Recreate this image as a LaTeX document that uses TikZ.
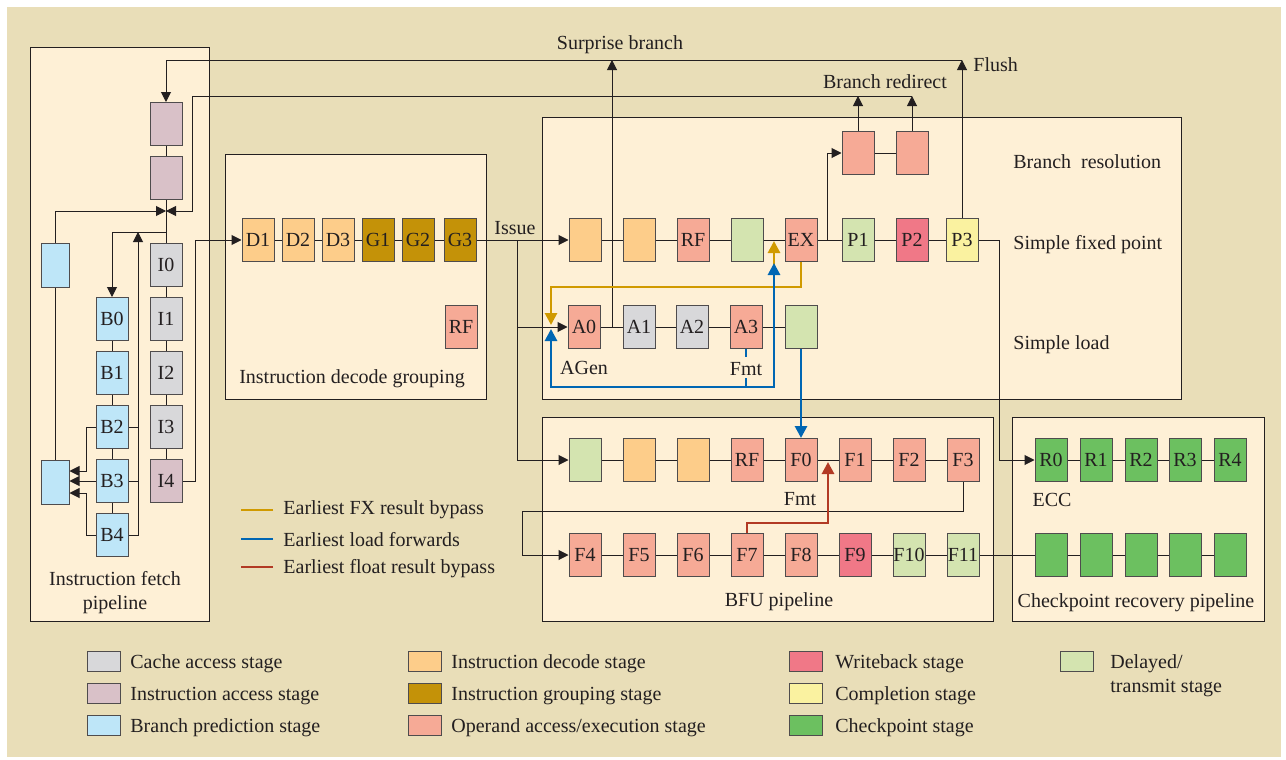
\documentclass[tikz,border=0pt]{standalone}
\usepackage{fontspec}
\setmainfont{Liberation Serif}
\usetikzlibrary{arrows.meta,calc}

\definecolor{bgtan}{RGB}{233,222,184}
\definecolor{panelfill}{RGB}{254,240,214}
\definecolor{cachec}{RGB}{216,216,218}
\definecolor{iaccc}{RGB}{217,193,200}
\definecolor{bpredc}{RGB}{190,230,248}
\definecolor{decc}{RGB}{253,205,138}
\definecolor{grpc}{RGB}{196,146,8}
\definecolor{opexc}{RGB}{246,170,150}
\definecolor{wbc}{RGB}{240,120,135}
\definecolor{cmplc}{RGB}{250,242,160}
\definecolor{ckptc}{RGB}{108,192,96}
\definecolor{dlyc}{RGB}{212,228,176}
\definecolor{fxgold}{RGB}{208,154,0}
\definecolor{ldblue}{RGB}{0,102,179}
\definecolor{fltred}{RGB}{178,58,36}
\definecolor{inkc}{RGB}{35,31,32}

\begin{document}
\begin{tikzpicture}[x=0.5pt,y=-0.5pt, font=\fontsize{10}{12}\selectfont, text=inkc,
  stg/.style={draw=inkc!80, line width=0.5pt, minimum width=16pt, minimum height=21.5pt, inner sep=0pt},
  cache/.style={stg, fill=cachec},
  iacc/.style={stg, fill=iaccc},
  bpred/.style={stg, fill=bpredc},
  dec/.style={stg, fill=decc},
  grp/.style={stg, fill=grpc},
  opex/.style={stg, fill=opexc},
  wb/.style={stg, fill=wbc},
  cmpl/.style={stg, fill=cmplc},
  ckpt/.style={stg, fill=ckptc},
  dly/.style={stg, fill=dlyc},
  panel/.style={draw=inkc, fill=panelfill, line width=0.5pt},
  wire/.style={draw=inkc, line width=0.5pt},
  flow/.style={wire, -{Triangle[length=5pt,width=5pt]}},
  bypass/.style={line width=1.4pt, -{Triangle[length=6pt,width=6pt]}},
  lbl/.style={inner sep=1pt, yshift=-1pt},
  key/.style={draw=inkc!80, line width=0.5pt, minimum width=16.5pt, minimum height=10pt, inner sep=0pt}]

  % background and panels
  \fill[white] (0,0) rectangle (1286,760);
  \fill[bgtan] (7,7) rectangle (1281,757);
  \draw[panel] (30,47) rectangle (209,621);
  \draw[panel] (225,154) rectangle (486,399);
  \draw[panel] (542,117) rectangle (1181,399);
  \draw[panel] (542,417) rectangle (993,621);
  \draw[panel] (1012,417) rectangle (1264,621);

  % fetch
  \node[iacc] (IA1) at (166,124) {};
  \node[iacc] (IA2) at (166,178) {};
  \node[cache] (I0) at (166,265) {I0};
  \node[cache] (I1) at (166,319) {I1};
  \node[cache] (I2) at (166,373) {I2};
  \node[cache] (I3) at (166,427) {I3};
  \node[iacc] (I4) at (166,481) {I4};
  \node[bpred] (B0) at (112,319) {B0};
  \node[bpred] (B1) at (112,373) {B1};
  \node[bpred] (B2) at (112,427) {B2};
  \node[bpred] (B3) at (112,481) {B3};
  \node[bpred] (B4) at (112,535) {B4};
  \node[bpred, minimum width=14pt, minimum height=22pt] (BT) at (55,265) {};
  \node[bpred, minimum width=14pt, minimum height=22pt] (BL) at (55,482) {};
  \node[lbl, align=center] (fetchtxt) at (115,591) {Instruction fetch\\pipeline};

  % decode
  \node[dec] (D1) at (258,240) {D1};
  \node[dec] (D2) at (298,240) {D2};
  \node[dec] (D3) at (338,240) {D3};
  \node[grp] (G1) at (378,240) {G1};
  \node[grp] (G2) at (418,240) {G2};
  \node[grp] (G3) at (460,240) {G3};
  \node[opex] (RFd) at (461,327) {RF};
  \node[lbl] (dectxt) at (352,377) {Instruction decode grouping};

  % branch, fixed point, load
  \node[opex] (BR1) at (858,153) {};
  \node[opex] (BR2) at (912,153) {};
  \node[dec] (X1) at (585,240) {};
  \node[dec] (X2) at (639,240) {};
  \node[opex] (XRF) at (693,240) {RF};
  \node[dly] (X4) at (747,240) {};
  \node[opex] (EX) at (801,240) {EX};
  \node[dly] (P1) at (858,240) {P1};
  \node[wb] (P2) at (912,240) {P2};
  \node[cmpl] (P3) at (962,240) {P3};
  \node[opex] (A0) at (584,327) {A0};
  \node[cache] (A1) at (639,327) {A1};
  \node[cache] (A2) at (692,327) {A2};
  \node[opex] (A3) at (746,327) {A3};
  \node[dly] (L5) at (801,327) {};
  \node[lbl] (agen) at (584,366) {AGen};
  \node[lbl] (fmtA) at (746,367) {Fmt};
  \node[lbl, anchor=west] (brres) at (1011,160) {Branch\ \ resolution};
  \node[lbl, anchor=west] (sfp) at (1011,243) {Simple fixed point};
  \node[lbl, anchor=west] (sld) at (1011,343) {Simple load};

  % BFU
  \node[dly] (FB0) at (585,460) {};
  \node[dec] (FB1) at (639,460) {};
  \node[dec] (FB2) at (693,460) {};
  \node[opex] (FRF) at (747,460) {RF};
  \node[opex] (F0) at (801,460) {F0};
  \node[opex] (F1) at (855,460) {F1};
  \node[opex] (F2) at (909,460) {F2};
  \node[opex] (F3) at (963,460) {F3};
  \node[opex] (F4) at (585,555) {F4};
  \node[opex] (F5) at (639,555) {F5};
  \node[opex] (F6) at (693,555) {F6};
  \node[opex] (F7) at (747,555) {F7};
  \node[opex] (F8) at (801,555) {F8};
  \node[wb] (F9) at (855,555) {F9};
  \node[dly] (F10) at (909,555) {F10};
  \node[dly] (F11) at (963,555) {F11};
  \node[lbl] (fmtF) at (800,497) {Fmt};
  \node[lbl] (bfutxt) at (779,600) {BFU pipeline};

  % checkpoint
  \node[ckpt] (R0) at (1051,460) {R0};
  \node[ckpt] (R1) at (1096,460) {R1};
  \node[ckpt] (R2) at (1141,460) {R2};
  \node[ckpt] (R3) at (1185,460) {R3};
  \node[ckpt] (R4) at (1230,460) {R4};
  \node[ckpt] (C0) at (1051,555) {};
  \node[ckpt] (C1) at (1096,555) {};
  \node[ckpt] (C2) at (1141,555) {};
  \node[ckpt] (C3) at (1185,555) {};
  \node[ckpt] (C4) at (1230,555) {};
  \node[lbl] (ecc) at (1052,498) {ECC};
  \node[lbl] (ckpttxt) at (1136,601) {Checkpoint recovery pipeline};

  % top labels
  \node[lbl] (surp) at (620,43) {Surprise branch};
  \node[lbl] (redir) at (885,80) {Branch redirect};
  \node[lbl, anchor=west] (flush) at (971,63) {Flush};
  \node[lbl] (issuetxt) at (515,226) {Issue};

  \coordinate (merge) at (166,211);
  \coordinate (ibr) at (166,232);
  \coordinate (bus) at (138,232);
  \coordinate (rdR) at (912,96);
  \coordinate (rdL) at (192,96);
  \coordinate (flR) at (962,60);
  \coordinate (flL) at (166,60);
  \coordinate (sbr) at (612,327);
  \coordinate (issue) at (517,240);
  \coordinate (exjn) at (827,240);
  \coordinate (a0in) at (551,327);
  \coordinate (exin) at (774,240);
  \coordinate (gold) at (774,287);
  \coordinate (ldbus) at (746,387);
  \coordinate (wrap) at (522,511);
  \coordinate (fin) at (828,460);

  % stage chains
  \draw[wire] (IA1) -- (IA2) (IA2) -- (I0) (I0) -- (I1) (I1) -- (I2) (I2) -- (I3) (I3) -- (I4);
  \draw[wire] (B0) -- (B1) (B1) -- (B2) (B2) -- (B3) (B3) -- (B4) (BL) -- (BT);
  \draw[wire] (D1) -- (D2) (D2) -- (D3) (D3) -- (G1) (G1) -- (G2) (G2) -- (G3);
  \draw[wire] (X1) -- (X2) (X2) -- (XRF) (XRF) -- (X4) (X4) -- (EX) (EX) -- (P1) (P1) -- (P2) (P2) -- (P3);
  \draw[wire] (BR1) -- (BR2);
  \draw[wire] (A0) -- (A1) (A1) -- (A2) (A2) -- (A3) (A3) -- (L5);
  \draw[wire] (FB0) -- (FB1) (FB1) -- (FB2) (FB2) -- (FRF) (FRF) -- (F0) (F0) -- (F1) (F1) -- (F2) (F2) -- (F3);
  \draw[wire] (F4) -- (F5) (F5) -- (F6) (F6) -- (F7) (F7) -- (F8) (F8) -- (F9) (F9) -- (F10) (F10) -- (F11);
  \draw[wire] (R0) -- (R1) (R1) -- (R2) (R2) -- (R3) (R3) -- (R4);
  \draw[wire] (F11) -- (C0) (C0) -- (C1) (C1) -- (C2) (C2) -- (C3) (C3) -- (C4);

  % fetch loops
  \draw[flow] (BT.north) |- (merge);
  \draw[flow] (ibr) -| (B0.north);
  \draw[flow] (B4.east) -| (bus);
  \draw[wire] (B2.east) -- (B2.east -| bus) (B3.east) -- (B3.east -| bus);
  \draw[flow] (B2.west) -- ++(-9,0) |- ($(BL.east)+(0,-11)$);
  \draw[flow] (B3.west) -- (B3.west -| BL.east);
  \draw[flow] (B4.west) -- ++(-9,0) |- ($(BL.east)+(0,11)$);
  \draw[flow] (I4.east) -- ++(13,0) |- (D1.west);

  % redirect, flush, surprise branch
  \draw[flow] (BR1.north) -- (BR1.north |- rdR);
  \draw[flow] (BR2.north) -- (rdR);
  \draw[flow] (rdR) -- (rdL) |- (merge);
  \draw[flow] (P3.north) -- (flR);
  \draw[flow] (flR) -- (flL) -- (IA1.north);
  \draw[flow] (sbr) -- (sbr |- flR);
  \draw[flow] (exjn) |- (BR1.west);

  % issue
  \draw[wire] (G3.east) -- (issue);
  \draw[flow] (issue) -- (X1.west);
  \draw[flow] (issue) |- (A0.west);
  \draw[flow] (issue) |- (FB0.west);
  \draw[flow] (P3.east) -- ++(21,0) |- (R0.west);
  \draw[flow] (F3.south) |- (wrap) |- (F4.west);

  % bypasses
  \draw[bypass, fxgold] (EX.south) |- (gold) -| ($(a0in)+(0,-2)$);
  \draw[bypass, fxgold] (gold) -- ($(exin)+(0,1)$);
  \draw[line width=1.4pt, ldblue] (A3.south) -- ++(0,8) (fmtA.south) -- (ldbus);
  \draw[bypass, ldblue] (ldbus) -| ($(a0in)+(0,2)$);
  \draw[bypass, ldblue] (ldbus) -| ($(exin)+(0,23)$);
  \draw[bypass, ldblue] (L5.south) -- (F0.north);
  \draw[bypass, fltred] (F7.north) -- ++(0,-10) -| ($(fin)+(0,2)$);

  % bypass key
  \node[lbl, anchor=west] (kfx) at (281,508) {Earliest FX result bypass};
  \node[lbl, anchor=west] (kld) at (281,538) {Earliest load forwards};
  \node[lbl, anchor=west] (kfl) at (281,567) {Earliest float result bypass};
  \draw[line width=1.4pt, fxgold] ($(kfx.west)+(-8,0)$) -- ++(-32,0);
  \draw[line width=1.4pt, ldblue] ($(kld.west)+(-8,-1)$) -- ++(-32,0);
  \draw[line width=1.4pt, fltred] ($(kfl.west)+(-8,-2)$) -- ++(-32,0);

  % stage key
  \node[key, fill=cachec] (kc) at (104,661) {};
  \node[key, fill=iaccc] (kia) at (104,693) {};
  \node[key, fill=bpredc] (kbp) at (104,725) {};
  \node[key, fill=decc] (kd) at (425,661) {};
  \node[key, fill=grpc] (kg) at (425,693) {};
  \node[key, fill=opexc] (ko) at (425,725) {};
  \node[key, fill=wbc] (kw) at (806,661) {};
  \node[key, fill=cmplc] (kcm) at (806,693) {};
  \node[key, fill=ckptc] (kck) at (806,725) {};
  \node[key, fill=dlyc] (kdl) at (1077,661) {};
  \node[lbl, anchor=west] at (128,662) {Cache access stage};
  \node[lbl, anchor=west] at (128,694) {Instruction access stage};
  \node[lbl, anchor=west] at (128,726) {Branch prediction stage};
  \node[lbl, anchor=west] at (449,662) {Instruction decode stage};
  \node[lbl, anchor=west] at (449,694) {Instruction grouping stage};
  \node[lbl, anchor=west] at (449,726) {Operand access/execution stage};
  \node[lbl, anchor=west] at (833,662) {Writeback stage};
  \node[lbl, anchor=west] at (833,694) {Completion stage};
  \node[lbl, anchor=west] at (833,726) {Checkpoint stage};
  \node[lbl, anchor=west, align=left] at (1108,674) {Delayed/\\transmit stage};
\end{tikzpicture}
\end{document}
